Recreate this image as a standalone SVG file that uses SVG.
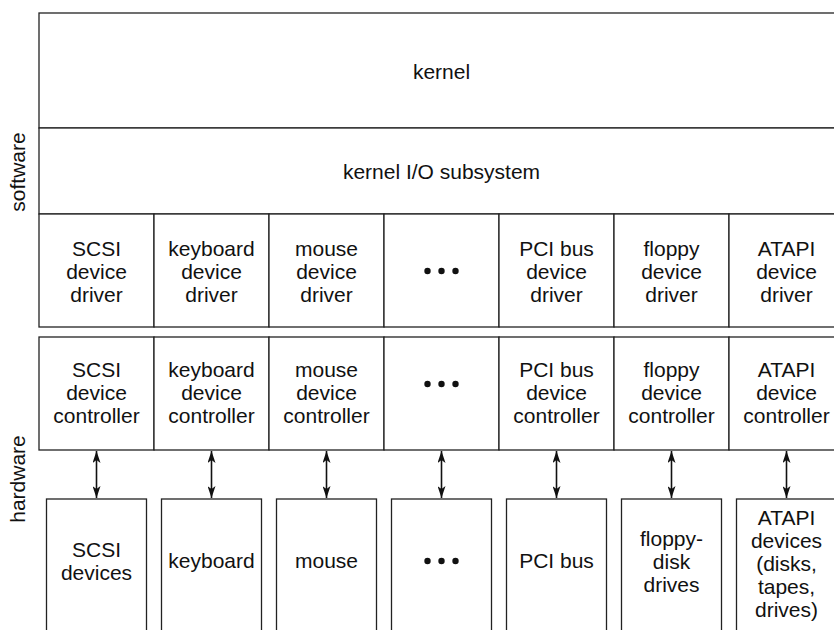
<svg xmlns="http://www.w3.org/2000/svg" width="834" height="630" viewBox="0 0 834 630">
<style>
.box{fill:#fff;stroke:#222;stroke-width:1.3}
.t{font-family:"Liberation Sans",Arial,sans-serif;font-size:21px;fill:#111;text-anchor:middle}
.dot{fill:#111}
.conn{stroke:#111;stroke-width:1.6;fill:none;marker-start:url(#ah);marker-end:url(#ah)}
</style>
<defs>
<marker id="ah" viewBox="0 0 12 8" refX="12" refY="4" markerWidth="12" markerHeight="8" markerUnits="userSpaceOnUse" orient="auto-start-reverse">
<path d="M0,0 L12,4 L0,8 L3,4 z" fill="#111"/>
</marker>
</defs>
<rect width="834" height="630" fill="#fff"/>
<text class="t" transform="translate(25,172) rotate(-90)">software</text>
<text class="t" transform="translate(25,479) rotate(-90)">hardware</text>

<g id="kernel"><rect class="box" x="39" y="13" width="805" height="115"/><text class="t" x="441.5" y="79">kernel</text></g>
<g id="kernel-io"><rect class="box" x="39" y="128" width="805" height="86"/><text class="t" x="441.5" y="179">kernel I/O subsystem</text></g>

<g id="drv-scsi"><rect class="box" x="39" y="214" width="115" height="113"/><text class="t" x="96.5" y="256">SCSI</text><text class="t" x="96.5" y="279">device</text><text class="t" x="96.5" y="302">driver</text></g>
<g id="drv-keyboard"><rect class="box" x="154" y="214" width="115" height="113"/><text class="t" x="211.5" y="256">keyboard</text><text class="t" x="211.5" y="279">device</text><text class="t" x="211.5" y="302">driver</text></g>
<g id="drv-mouse"><rect class="box" x="269" y="214" width="115" height="113"/><text class="t" x="326.5" y="256">mouse</text><text class="t" x="326.5" y="279">device</text><text class="t" x="326.5" y="302">driver</text></g>
<g id="drv-more"><rect class="box" x="384" y="214" width="115" height="113"/><circle class="dot" cx="427.5" cy="271" r="3.2"/><circle class="dot" cx="441.5" cy="271" r="3.2"/><circle class="dot" cx="455.5" cy="271" r="3.2"/></g>
<g id="drv-pci"><rect class="box" x="499" y="214" width="115" height="113"/><text class="t" x="556.5" y="256">PCI bus</text><text class="t" x="556.5" y="279">device</text><text class="t" x="556.5" y="302">driver</text></g>
<g id="drv-floppy"><rect class="box" x="614" y="214" width="115" height="113"/><text class="t" x="671.5" y="256">floppy</text><text class="t" x="671.5" y="279">device</text><text class="t" x="671.5" y="302">driver</text></g>
<g id="drv-atapi"><rect class="box" x="729" y="214" width="115" height="113"/><text class="t" x="786.5" y="256">ATAPI</text><text class="t" x="786.5" y="279">device</text><text class="t" x="786.5" y="302">driver</text></g>

<g id="ctl-scsi"><rect class="box" x="39" y="337" width="115" height="113"/><text class="t" x="96.5" y="377">SCSI</text><text class="t" x="96.5" y="400">device</text><text class="t" x="96.5" y="423">controller</text></g>
<g id="ctl-keyboard"><rect class="box" x="154" y="337" width="115" height="113"/><text class="t" x="211.5" y="377">keyboard</text><text class="t" x="211.5" y="400">device</text><text class="t" x="211.5" y="423">controller</text></g>
<g id="ctl-mouse"><rect class="box" x="269" y="337" width="115" height="113"/><text class="t" x="326.5" y="377">mouse</text><text class="t" x="326.5" y="400">device</text><text class="t" x="326.5" y="423">controller</text></g>
<g id="ctl-more"><rect class="box" x="384" y="337" width="115" height="113"/><circle class="dot" cx="427.5" cy="384" r="3.2"/><circle class="dot" cx="441.5" cy="384" r="3.2"/><circle class="dot" cx="455.5" cy="384" r="3.2"/></g>
<g id="ctl-pci"><rect class="box" x="499" y="337" width="115" height="113"/><text class="t" x="556.5" y="377">PCI bus</text><text class="t" x="556.5" y="400">device</text><text class="t" x="556.5" y="423">controller</text></g>
<g id="ctl-floppy"><rect class="box" x="614" y="337" width="115" height="113"/><text class="t" x="671.5" y="377">floppy</text><text class="t" x="671.5" y="400">device</text><text class="t" x="671.5" y="423">controller</text></g>
<g id="ctl-atapi"><rect class="box" x="729" y="337" width="115" height="113"/><text class="t" x="786.5" y="377">ATAPI</text><text class="t" x="786.5" y="400">device</text><text class="t" x="786.5" y="423">controller</text></g>

<g id="dev-scsi"><rect class="box" x="46.5" y="499" width="100" height="145"/><text class="t" x="96.5" y="557">SCSI</text><text class="t" x="96.5" y="580">devices</text></g>
<g id="dev-keyboard"><rect class="box" x="161.5" y="499" width="100" height="145"/><text class="t" x="211.5" y="568">keyboard</text></g>
<g id="dev-mouse"><rect class="box" x="276.5" y="499" width="100" height="145"/><text class="t" x="326.5" y="568">mouse</text></g>
<g id="dev-more"><rect class="box" x="391.5" y="499" width="100" height="145"/><circle class="dot" cx="427.5" cy="561" r="3.2"/><circle class="dot" cx="441.5" cy="561" r="3.2"/><circle class="dot" cx="455.5" cy="561" r="3.2"/></g>
<g id="dev-pci"><rect class="box" x="506.5" y="499" width="100" height="145"/><text class="t" x="556.5" y="568">PCI bus</text></g>
<g id="dev-floppy"><rect class="box" x="621.5" y="499" width="100" height="145"/><text class="t" x="671.5" y="546">floppy-</text><text class="t" x="671.5" y="569">disk</text><text class="t" x="671.5" y="592">drives</text></g>
<g id="dev-atapi"><rect class="box" x="736.5" y="499" width="100" height="145"/><text class="t" x="786.5" y="525">ATAPI</text><text class="t" x="786.5" y="548">devices</text><text class="t" x="786.5" y="571">(disks,</text><text class="t" x="786.5" y="594">tapes,</text><text class="t" x="786.5" y="617">drives)</text></g>

<g id="connectors">
<line class="conn" x1="96.5" y1="451" x2="96.5" y2="498"/>
<line class="conn" x1="211.5" y1="451" x2="211.5" y2="498"/>
<line class="conn" x1="326.5" y1="451" x2="326.5" y2="498"/>
<line class="conn" x1="441.5" y1="451" x2="441.5" y2="498"/>
<line class="conn" x1="556.5" y1="451" x2="556.5" y2="498"/>
<line class="conn" x1="671.5" y1="451" x2="671.5" y2="498"/>
<line class="conn" x1="786.5" y1="451" x2="786.5" y2="498"/>
</g>
</svg>
